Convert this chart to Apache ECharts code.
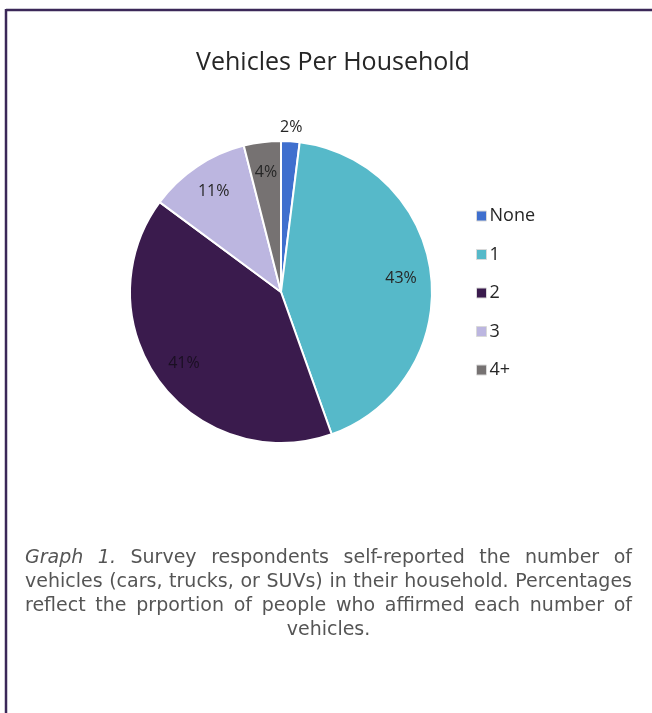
<!DOCTYPE html>
<html>
<head>
<meta charset="utf-8">
<script src="https://cdn.jsdelivr.net/npm/echarts@6/dist/echarts.min.js"></script>
<style>
html,body{margin:0;padding:0;background:#fff;}
#chart{width:652px;height:713px;}
</style>
</head>
<body>
<div id="chart"></div>
<script>
const categories = ['None', '1', '2', '3', '4+'];
const values = [2, 43, 41, 11, 4];
const colors = ['#3f6fce', '#56b9c9', '#3a1b4d', '#bcb6e0', '#767272'];
const titleText = 'Vehicles Per Household';
const captionLines = [
  ['Graph 1.', 'Survey respondents self-reported the number of'],
  ['', 'vehicles (cars, trucks, or SUVs) in their household. Percentages'],
  ['', 'reflect the prportion of people who affirmed each number of'],
  ['', 'vehicles.']
];

const chart = echarts.init(document.getElementById('chart'), null, {renderer: 'canvas'});

const cx = 281, cy = 292, R = 151;
const data = categories.map((c, i) => ({name: c, value: values[i], itemStyle: {color: colors[i]}}));

// caption layout (justified)
const capFont = '"DejaVu Sans", sans-serif';
const capSize = 19;
const capLeft = 25, capRight = 632, capTop = 558, capLH = 24;
const mctx = document.createElement('canvas').getContext('2d');
function fontStr(italic) { return (italic ? 'italic ' : '') + 'normal ' + capSize + 'px ' + capFont; }
function measure(t, italic) {
  mctx.font = fontStr(italic);
  return mctx.measureText(t).width;
}
const graphics = [];
// border
graphics.push({type: 'line', shape: {x1: 6, y1: 10, x2: 652, y2: 10}, style: {stroke: '#3b2858', lineWidth: 2.5}});
graphics.push({type: 'line', shape: {x1: 6, y1: 9, x2: 6, y2: 713}, style: {stroke: '#3b2858', lineWidth: 2.5}});

captionLines.forEach((ln, li) => {
  const words = [];
  if (ln[0]) ln[0].split(' ').forEach(w => words.push({t: w, it: true}));
  ln[1].split(' ').forEach(w => words.push({t: w, it: false}));
  const y = capTop + li * capLH;
  const last = li === captionLines.length - 1;
  const widths = words.map(w => measure(w.t, w.it));
  const total = widths.reduce((a, b) => a + b, 0);
  let gap, x;
  if (last) {
    gap = measure(' ', false);
    const lw = total + gap * (words.length - 1);
    x = (capLeft + capRight) / 2 - lw / 2;
  } else {
    gap = (capRight - capLeft - total) / (words.length - 1);
    x = capLeft;
  }
  words.forEach((w, i) => {
    graphics.push({
      type: 'text', x: x, y: y,
      style: {text: w.t, font: fontStr(w.it), fill: '#555555', textVerticalAlign: 'middle', textAlign: 'left'}
    });
    x += widths[i] + gap;
  });
});

const labelStyle = {fontFamily: '"Open Sans", sans-serif', fontSize: 16, color: '#262626'};

chart.setOption({
  animation: false,
  title: {
    text: titleText, left: 328, top: 45, textAlign: 'center',
    textStyle: {fontFamily: '"Open Sans", sans-serif', fontSize: 25, fontWeight: 'normal', color: '#262626'}
  },
  legend: {
    orient: 'vertical', left: 471, top: 202, itemGap: 20.5, itemWidth: 10, itemHeight: 10,
    icon: 'rect', data: categories,
    textStyle: {fontFamily: '"Open Sans", sans-serif', fontSize: 18, color: '#262626', padding: [0, 0, 0, -2]},
    itemStyle: {borderColor: '#d9d9d9', borderWidth: 1}
  },
  graphic: graphics,
  series: [
    {
      type: 'pie', center: [cx, cy], radius: [0, R], startAngle: 90, clockwise: true,
      data: data, label: {show: false}, labelLine: {show: false},
      itemStyle: {borderColor: '#fff', borderWidth: 2}, silent: true
    },
    {
      // label carrier for inside labels (placed at ~0.78 R)
      type: 'pie', center: [cx, cy], radius: [R * 0.56, R], startAngle: 90, clockwise: true,
      data: data.map((d, i) => ({name: d.name, value: d.value,
        label: {show: i !== 0, color: i === 2 ? '#1a0f22' : '#262626'}})),
      itemStyle: {color: 'rgba(0,0,0,0)'}, silent: true, legendHoverLink: false,
      label: Object.assign({position: 'inside', formatter: '{c}%'}, labelStyle),
      labelLine: {show: false}
    },
    {
      // label carrier for the small outside label (~1.07 R)
      type: 'pie', center: [cx, cy], radius: [R, R * 1.14], startAngle: 90, clockwise: true,
      data: data.map((d, i) => ({name: d.name, value: d.value, label: {show: i === 0}})),
      itemStyle: {color: 'rgba(0,0,0,0)'}, silent: true, legendHoverLink: false,
      label: Object.assign({position: 'inside', formatter: '{c}%'}, labelStyle),
      labelLine: {show: false}
    }
  ]
});
</script>
</body>
</html>
